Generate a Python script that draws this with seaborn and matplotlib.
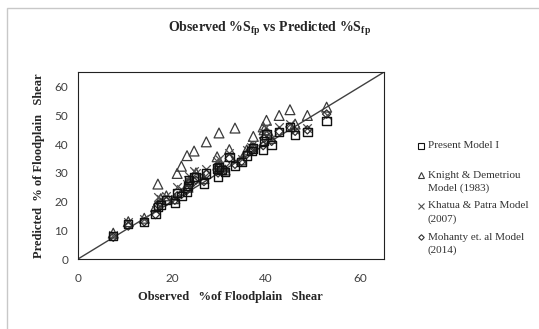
import matplotlib
matplotlib.use("Agg")
import matplotlib.pyplot as plt
import matplotlib.patches as mpatches
from matplotlib.lines import Line2D
import seaborn as sns
import pandas as pd

observed = [7.5, 10.7, 14.1, 16.5, 17.0, 17.6, 18.8, 20.6, 21.1, 22.0, 23.2, 23.4, 23.6,
            24.7, 25.1, 26.8, 27.3, 29.6, 29.8, 30.0, 30.5, 31.3, 32.2, 33.4, 34.8, 35.9,
            36.9, 37.3, 39.4, 39.6, 40.1, 41.2, 42.8, 45.1, 46.2, 48.8, 52.9]
present = [7.9, 12.2, 12.8, 15.7, 18.0, 18.8, 20.6, 19.6, 23.1, 22.0, 23.4, 25.4, 27.5,
           28.6, 28.6, 26.3, 29.8, 31.5, 28.6, 32.1, 31.0, 30.4, 35.6, 32.3, 33.8, 36.1,
           37.6, 38.5, 37.9, 41.1, 43.4, 39.6, 44.2, 46.0, 43.1, 44.2, 48.0]
knight = [9.0, 13.0, 14.2, 18.2, 26.1, 21.0, 22.0, 21.0, 29.8, 32.3, 36.0, 25.0, 27.0,
          37.6, 30.0, 28.0, 40.8, 35.6, 33.0, 43.9, 32.0, 31.0, 38.1, 45.6, 34.5, 38.0,
          39.0, 42.7, 46.0, 45.0, 48.3, 42.0, 50.0, 52.0, 47.0, 50.0, 52.9]
khatua = [8.5, 13.0, 14.0, 17.0, 21.5, 21.0, 22.0, 21.0, 25.0, 24.5, 26.0, 27.5, 29.0,
          30.5, 30.0, 28.5, 31.5, 34.0, 32.0, 35.0, 33.0, 32.0, 37.0, 34.0, 35.0, 38.0,
          39.0, 40.0, 41.0, 44.0, 46.0, 42.0, 46.0, 47.0, 45.0, 45.5, 50.0]
mohanty = [7.6, 11.5, 13.0, 15.5, 19.0, 19.5, 20.0, 20.5, 22.0, 22.5, 24.0, 25.0, 26.5,
           27.0, 27.5, 27.0, 29.5, 31.0, 30.0, 32.0, 31.0, 31.0, 35.0, 33.0, 34.0, 36.5,
           37.5, 39.0, 39.5, 42.0, 44.0, 41.0, 44.5, 46.0, 44.5, 45.0, 50.5]

labels = [["Present Model I"], ["Knight & Demetriou", "Model (1983)"],
          ["Khatua & Patra Model", "(2007)"], ["Mohanty et. al Model", "(2014)"]]
ticks = [0, 20, 40, 60]
yticks = [0, 10, 20, 30, 40, 50, 60]

sns.set_style("white")
plt.rcParams["mathtext.fontset"] = "custom"
plt.rcParams["mathtext.rm"] = "Liberation Serif:bold"

W, H = 539, 329
fig = plt.figure(figsize=(5.39, 3.29), dpi=100)
ax = fig.add_axes([78/W, 1 - 259/H, (383.5 - 78)/W, (259 - 72.4)/H])

# outer border
fig.patches.append(mpatches.Rectangle((7/W, -0.1), 1.2, 1 - 8/H + 0.1,
                                      transform=fig.transFigure, fill=False,
                                      edgecolor="#c8c8c8", linewidth=1.0))

ax.plot([0, 65], [0, 65], color="#404040", linewidth=1.0, zorder=1)

df = pd.DataFrame({"obs": observed, "present": present, "knight": knight,
                   "khatua": khatua, "mohanty": mohanty})

sns.scatterplot(data=df, x="obs", y="knight", marker="^", s=50, facecolor="none",
                edgecolor="#3a3a3a", linewidth=0.9, ax=ax, zorder=2)
sns.scatterplot(data=df, x="obs", y="khatua", marker="x", s=38, color="#505050",
                linewidth=0.9, ax=ax, zorder=3)
sns.scatterplot(data=df, x="obs", y="mohanty", marker="D", s=18, facecolor="none",
                edgecolor="#303030", linewidth=0.9, ax=ax, zorder=4)
sns.scatterplot(data=df, x="obs", y="present", marker="s", s=36, facecolor="none",
                edgecolor="#111111", linewidth=1.0, ax=ax, zorder=5)

ax.set_xlim(0, 65)
ax.set_ylim(0, 65)
ax.set_xticks(ticks)
ax.set_yticks(yticks)
for sp in ax.spines.values():
    sp.set_color("#222222")
    sp.set_linewidth(0.8)
ax.tick_params(axis="both", direction="out", length=4, width=0.8, color="#404040",
               labelsize=8.5, labelcolor="#404040", pad=3)
ax.tick_params(axis="x", pad=6)
for lab in ax.get_xticklabels() + ax.get_yticklabels():
    lab.set_fontfamily("Lato")

ax.set_xlabel("Observed   %of Floodplain   Shear", fontfamily="Liberation Serif",
              fontweight="bold", fontsize=9, labelpad=5)
ax.set_ylabel("Predicted  % of Floodplain   Shear", fontfamily="Liberation Serif",
              fontweight="bold", fontsize=9, labelpad=7)

fig.text(270/W, 1 - 29/H, r"Observed %S$_{\mathrm{fp}}$ vs Predicted %S$_{\mathrm{fp}}$",
         ha="center", va="center", fontfamily="Liberation Serif", fontweight="bold",
         fontsize=10)

# legend (manually laid out)
keys = [
    dict(marker="s", markerfacecolor="none", markeredgecolor="#111111", markersize=4,
         markeredgewidth=0.8),
    dict(marker="^", markerfacecolor="none", markeredgecolor="#3a3a3a", markersize=4,
         markeredgewidth=0.8),
    dict(marker="x", color="#505050", markersize=3.8, markeredgewidth=0.8),
    dict(marker="D", markerfacecolor="none", markeredgecolor="#303030", markersize=2.8,
         markeredgewidth=0.8),
]
entry_y = [146, 175, 206, 237]
for key, lines, y0 in zip(keys, labels, entry_y):
    fig.add_artist(Line2D([421/W], [1 - y0/H], linestyle="none",
                          transform=fig.transFigure, **key))
    for i, line in enumerate(lines):
        fig.text(427.5/W, 1 - (y0 + 12.7*i)/H, line, ha="left", va="center",
                 fontfamily="Liberation Serif", fontsize=8, color="#333333")

fig.savefig("out.png", dpi=100)
